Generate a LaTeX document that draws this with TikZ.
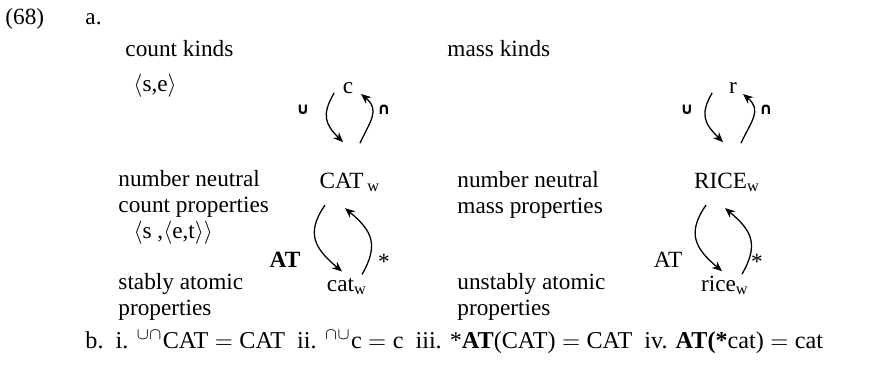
\documentclass[tikz,border=0pt]{standalone}
\usepackage{fontspec}
\setmainfont{Liberation Serif}
\newfontfamily\opfont{DejaVu Sans}
\usetikzlibrary{arrows.meta, positioning}

\begin{document}
\begin{tikzpicture}[
    x=0.43pt, y=0.43pt,
    lbl/.style={inner sep=0pt, font=\fontsize{10}{11}\selectfont, anchor=base west, align=left},
    obj/.style={inner sep=0pt, font=\fontsize{10}{12}\selectfont, anchor=base},
    oplbl/.style={inner sep=0pt, font=\fontsize{10}{12}\selectfont},
    setop/.style={inner sep=0pt, font=\fontsize{7}{8}\opfont\bfseries},
    mapto/.style={-{Stealth[length=4.3pt, width=3.6pt]}, line width=0.55pt, looseness=1.3}
]
\useasboundingbox (0,0) rectangle (871,368);

% Header
\node[lbl] (ex) at (5,344) {(68)};
\node[lbl] (parta) at (85,344) {a.};
\node[lbl] (countkinds) at (125,312) {count kinds};
\node[lbl] (masskinds) at (447,312) {mass kinds};
\node[lbl] (setype) at (133,277) {$\langle$s,e$\rangle$};

% Left column labels (base = last line)
\node[lbl] (nncount) at (118,130) {number neutral\\count properties\\\hspace*{6.5pt}$\langle$s ,$\langle$e,t$\rangle\rangle$};
\node[lbl] (stcount) at (118,53) {stably atomic\\properties};

% Middle column labels
\node[lbl] (nnmass) at (457,155) {number neutral\\mass properties};
\node[lbl] (stmass) at (457,53) {unstably atomic\\properties};

% Count side
\node[obj] (c) at (348,275) {c};
\node[obj] (CATw) at (350,180) {CAT\,\textsubscript{w}};
\node[obj] (catw) at (347,77) {cat\textsubscript{w}};

\node[setop] (upc) at (303,258) {∪};
\node[setop] (downc) at (384,258) {∩};
\node[oplbl, font=\fontsize{10}{12}\selectfont\bfseries] (ATc) at (285,108) {AT};
\node[oplbl] (starc) at (384,106) {*};

\draw[mapto] ([xshift=-6]c.base) to[out=240,in=135] ([shift={(-7,30)}]CATw.north);
\draw[mapto] ([shift={(10,29)}]CATw.north) to[out=65,in=-40] ([shift={(13,-1)}]c.base);
\draw[mapto] ([shift={(-25,-13)}]CATw.south) to[out=235,in=140] ([shift={(-5,6)}]catw.north);
\draw[mapto] ([shift={(15,3)}]catw.north) to[out=60,in=-40] ([shift={(-5,-16)}]CATw.south);

% Mass side
\node[obj] (r) at (733,275) {r};
\node[obj] (RICEw) at (727,180) {RICE\textsubscript{w}};
\node[obj] (ricew) at (725,77) {rice\textsubscript{w}};

\node[setop] (upr) at (687,258) {∪};
\node[setop] (downr) at (766,258) {∩};
\node[oplbl] (ATr) at (668,108) {AT};
\node[oplbl] (starr) at (757,106) {*};

\draw[mapto] ([xshift=-9]r.base) to[out=240,in=135] ([shift={(-4,30)}]RICEw.north);
\draw[mapto] ([shift={(14,29)}]RICEw.north) to[out=65,in=-40] ([shift={(10,-1)}]r.base);
\draw[mapto] ([shift={(-21,-13)}]RICEw.south) to[out=235,in=140] ([shift={(-3,4)}]ricew.north);
\draw[mapto] ([shift={(17,1)}]ricew.north) to[out=60,in=-40] ([shift={(-2,-16)}]RICEw.south);

% Part b
\node[lbl, font=\fontsize{10.4}{13}\selectfont] (partb) at (85,20)
    {b.\ \ i. $^{\cup\cap}$CAT${}={}$CAT\ \ ii. $^{\cap\cup}$c${}={}$c\ \ iii. *\textbf{AT}(CAT)${}={}$CAT\ \ iv. \textbf{AT(*}cat)${}={}$cat};

\end{tikzpicture}
\end{document}
